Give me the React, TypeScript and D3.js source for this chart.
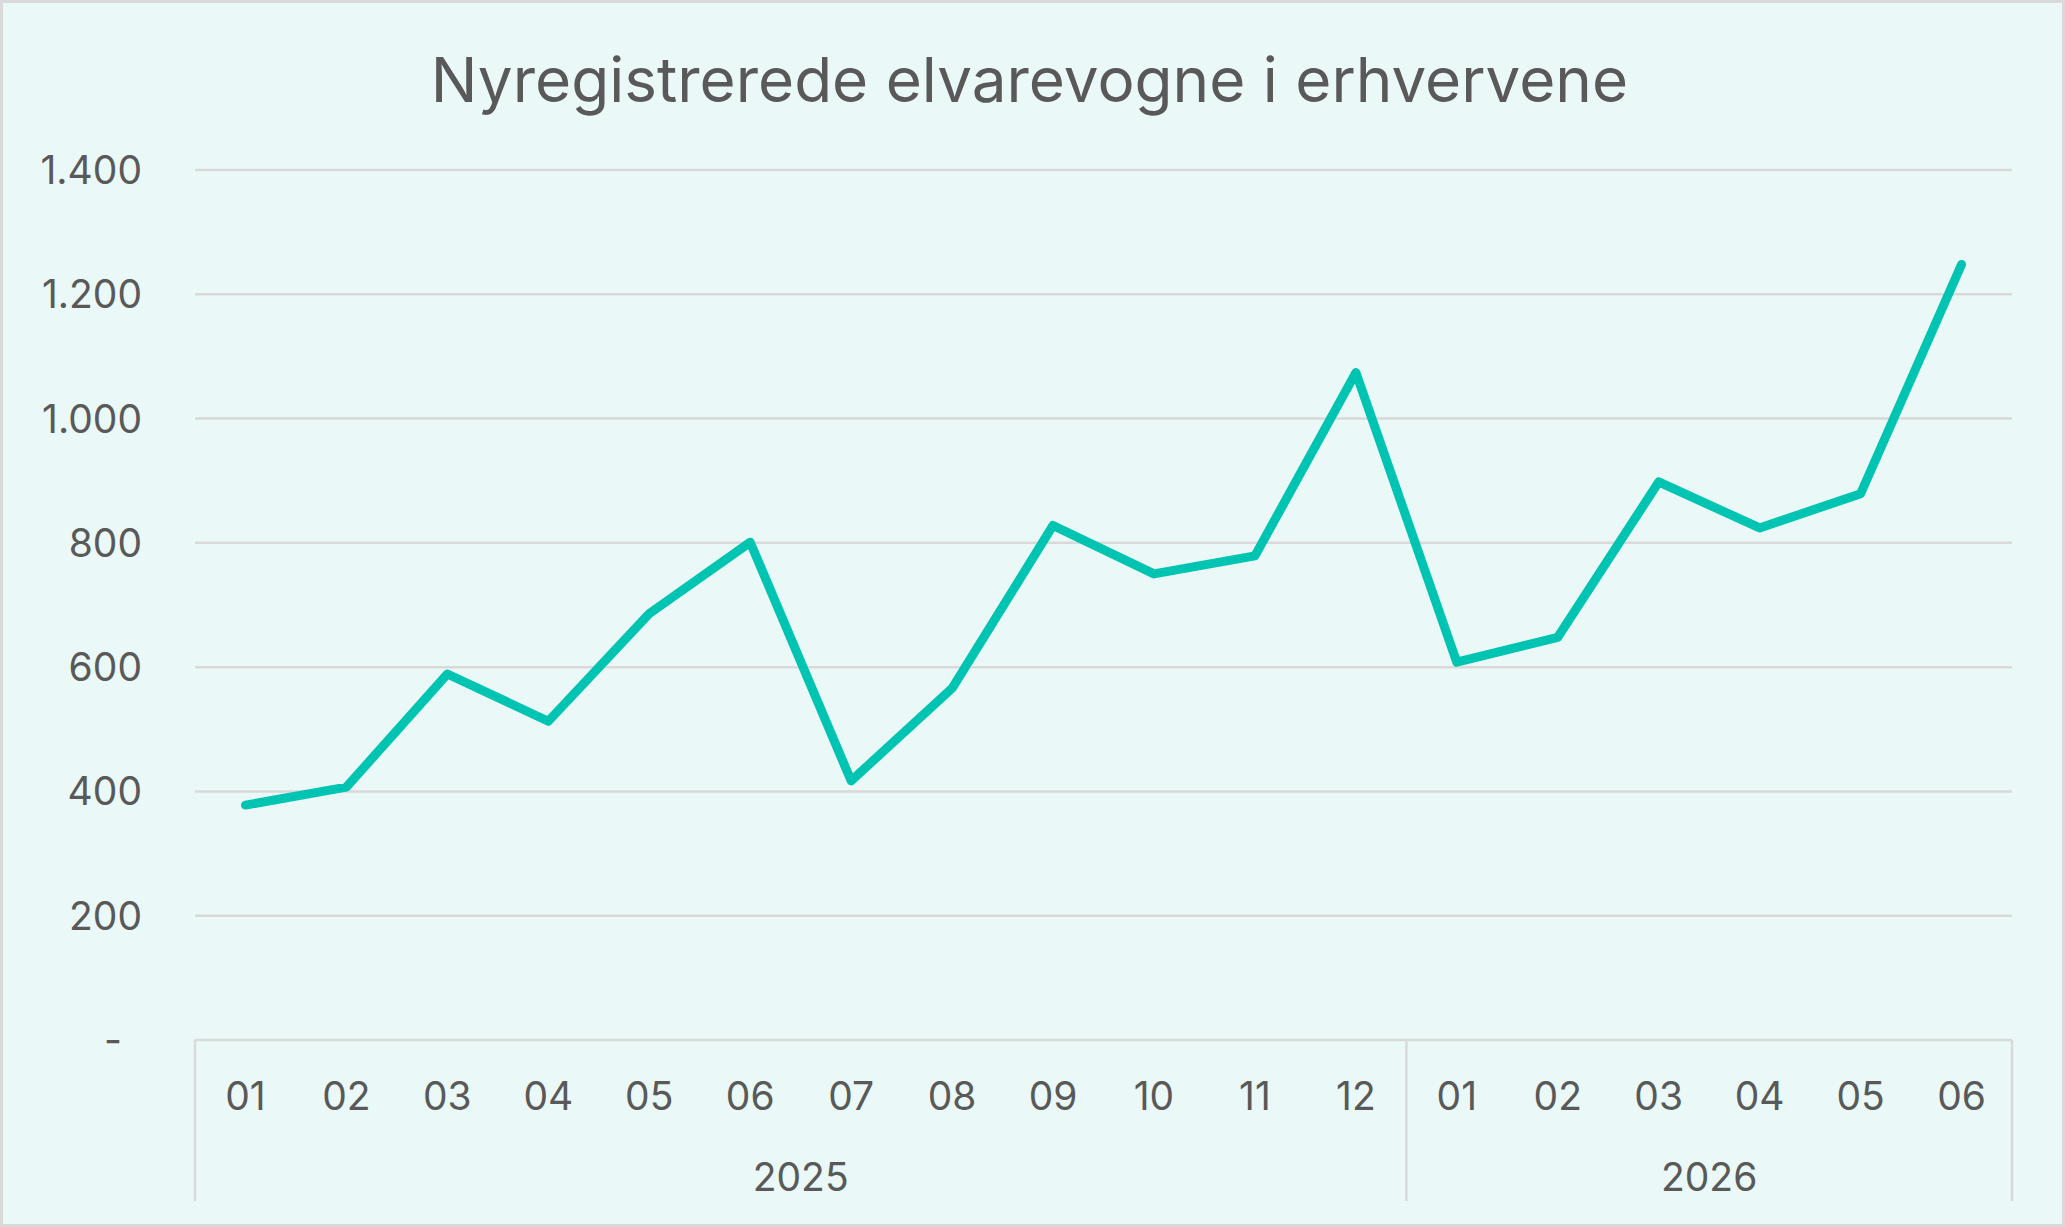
import React, { useRef, useEffect } from 'react';
import { select, scaleBand, scaleLinear, line, range } from 'd3';

const months = ['01', '02', '03', '04', '05', '06', '07', '08', '09', '10', '11', '12', '01', '02', '03', '04', '05', '06'];
const years = ['2025', '2025', '2025', '2025', '2025', '2025', '2025', '2025', '2025', '2025', '2025', '2025', '2026', '2026', '2026', '2026', '2026', '2026'];
const registrations = [378, 407, 589, 513, 686, 801, 417, 566, 828, 750, 779, 1074, 608, 648, 898, 824, 879, 1248];
const yTicks = [0, 200, 400, 600, 800, 1000, 1200, 1400];

const W = 2065;
const H = 1227;
const textColor = '#595959';
const gridColor = '#d9d9d9';
const font = 'Inter, "Liberation Sans", Arial, sans-serif';

const fmt = (v: number) => (v === 0 ? '-' : v.toLocaleString('de-DE'));

const App: React.FC = () => {
  const svgRef = useRef<SVGSVGElement | null>(null);

  useEffect(() => {
    if (!svgRef.current) return;
    const svg = select(svgRef.current);
    svg.selectAll('*').remove();

    const left = 195, right = 2012, top = 170, bottom = 1040;
    const x = scaleBand<number>().domain(range(months.length)).range([left, right]);
    const y = scaleLinear().domain([0, 1400]).range([bottom, top]);
    const cx = (i: number) => x(i)! + x.bandwidth() / 2;

    svg.append('rect')
      .attr('x', 1.5).attr('y', 1.5)
      .attr('width', W - 3).attr('height', H - 3)
      .attr('fill', '#eaf8f7')
      .attr('stroke', gridColor).attr('stroke-width', 3);

    svg.append('text')
      .attr('x', W / 2 - 3).attr('y', 102)
      .attr('text-anchor', 'middle')
      .attr('font-family', font).attr('font-size', 62)
      .attr('fill', textColor)
      .text('Nyregistrerede elvarevogne i erhvervene');

    // gridlines
    svg.append('g').selectAll('line')
      .data(yTicks.filter(t => t > 0))
      .enter().append('line')
      .attr('x1', left).attr('x2', right)
      .attr('y1', d => y(d)).attr('y2', d => y(d))
      .attr('stroke', gridColor).attr('stroke-width', 2.5);

    svg.append('g').selectAll('text')
      .data(yTicks)
      .enter().append('text')
      .attr('x', d => (d === 0 ? 122 : 142)).attr('y', d => y(d) + 14)
      .attr('text-anchor', 'end')
      .attr('font-family', font).attr('font-size', 39)
      .attr('fill', textColor)
      .text(d => fmt(d));

    // category axis
    const axis = svg.append('g').attr('stroke', gridColor).attr('stroke-width', 2.5);
    axis.append('line').attr('x1', left).attr('x2', right).attr('y1', bottom).attr('y2', bottom);
    const groupStarts = years.map((yr, i) => (i === 0 || years[i - 1] !== yr ? i : -1)).filter(i => i >= 0);
    const edges = [...groupStarts.map(i => x(i)!), right];
    axis.selectAll('line.sep')
      .data(edges)
      .enter().append('line')
      .attr('class', 'sep')
      .attr('x1', d => d).attr('x2', d => d)
      .attr('y1', bottom).attr('y2', 1201);

    svg.append('g').selectAll('text')
      .data(months)
      .enter().append('text')
      .attr('x', (d, i) => cx(i)).attr('y', 1110)
      .attr('text-anchor', 'middle')
      .attr('font-family', font).attr('font-size', 39)
      .attr('fill', textColor)
      .text(d => d);

    svg.append('g').selectAll('text')
      .data(groupStarts)
      .enter().append('text')
      .attr('x', (d, k) => (edges[k] + edges[k + 1]) / 2).attr('y', 1191)
      .attr('text-anchor', 'middle')
      .attr('font-family', font).attr('font-size', 39)
      .attr('fill', textColor)
      .text(d => years[d]);

    const path = line<number>()
      .x((d, i) => cx(i))
      .y(d => y(d));

    svg.append('path')
      .datum(registrations)
      .attr('d', path)
      .attr('fill', 'none')
      .attr('stroke', '#00c4b2')
      .attr('stroke-width', 9)
      .attr('stroke-linejoin', 'round')
      .attr('stroke-linecap', 'round');
  }, []);

  return (
    <svg ref={svgRef} width={W} height={H} style={{ position: 'absolute', left: 0, top: 0 }}></svg>
  );
};

export default App;
